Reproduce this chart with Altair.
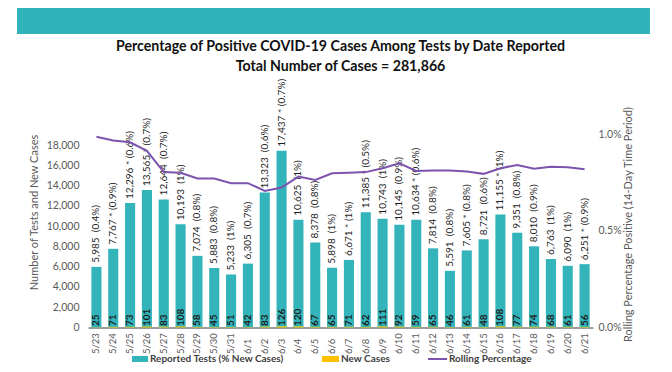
import altair as alt
import pandas as pd

dates = ["5/23", "5/24", "5/25", "5/26", "5/27", "5/28", "5/29", "5/30", "5/31",
         "6/1", "6/2", "6/3", "6/4", "6/5", "6/6", "6/7", "6/8", "6/9", "6/10",
         "6/11", "6/12", "6/13", "6/14", "6/15", "6/16", "6/17", "6/18", "6/19",
         "6/20", "6/21"]
tests = [5985, 7767, 12296, 13565, 12644, 10193, 7074, 5883, 5233, 6305, 13323,
         17437, 10625, 8378, 5898, 6671, 11385, 10743, 10145, 10634, 7814, 5591,
         7605, 8721, 11155, 9351, 8010, 6763, 6090, 6251]
pct_labels = ["0.4%", "0.9%", "0.6%", "0.7%", "0.7%", "1%", "0.8%", "0.8%", "1%",
              "0.7%", "0.6%", "0.7%", "1%", "0.8%", "1%", "1%", "0.5%", "1%",
              "0.9%", "0.6%", "0.8%", "0.8%", "0.8%", "0.6%", "1%", "0.8%",
              "0.9%", "1%", "1%", "0.9%"]
starred = [False, True, True, True, False, False, False, False, False, False,
           False, True, False, False, False, True, True, False, False, True,
           False, False, True, False, True, False, False, False, False, True]
new_cases = [25, 71, 73, 101, 83, 108, 58, 45, 51, 42, 83, 126, 120, 67, 65, 71,
             62, 111, 92, 59, 65, 46, 61, 48, 108, 77, 74, 68, 61, 56]
rolling_pct = [0.986, 0.966, 0.957, 0.913, 0.803, 0.800, 0.770, 0.770, 0.746,
               0.746, 0.706, 0.723, 0.780, 0.763, 0.797, 0.800, 0.803, 0.823,
               0.849, 0.809, 0.811, 0.811, 0.806, 0.794, 0.823, 0.840, 0.820,
               0.831, 0.828, 0.818]

title_lines = ["Percentage of Positive COVID-19 Cases Among Tests by Date Reported",
               "Total Number of Cases = 281,866"]
legend_labels = ["Reported Tests (% New Cases)", "New Cases", "Rolling Percentage"]
left_title = "Number of Tests and New Cases"
right_title = "Rolling Percentage Positive (14-Day Time Period)"
left_ticks = [0, 2000, 4000, 6000, 8000, 10000, 12000, 14000, 16000, 18000]
right_ticks = [0, 0.5, 1.0]

TEAL = "#32b4ba"
ORANGE = "#ffc000"
PURPLE = "#7c54ae"
GRAY = "#595959"
DARK = "#1e1e1e"
FONT = "Lato"

W, H = 505, 193.5

df = pd.DataFrame({"date": dates, "tests": tests, "new": new_cases,
                   "roll": rolling_pct})
df["label"] = [f"{t:,}" + (" * " if s else "\u00a0\u00a0") + f"({p})"
               for t, s, p in zip(tests, starred, pct_labels)]
df["newlab"] = [str(n) for n in new_cases]
df["zero"] = 0

xscale = alt.Scale(paddingInner=0.4, paddingOuter=0.2)
xenc = alt.X("date:N", sort=dates, scale=xscale,
             axis=alt.Axis(title=None, labelAngle=270, labelAlign="left",
                           labelBaseline="middle", labelPadding=26, ticks=False,
                           domainColor="#3a3a3a", labelColor=GRAY,
                           labelFontSize=9.5, labelFont=FONT, grid=False))
lscale = alt.Scale(domain=[0, 19100], nice=False)

base = alt.Chart(df)

bars = base.mark_bar(color=TEAL).encode(
    x=xenc,
    y=alt.Y("tests:Q", scale=lscale,
            axis=alt.Axis(title=left_title, values=left_ticks,
                          labelExpr="format(datum.value, ',')",
                          domain=False, ticks=False, grid=False,
                          labelPadding=9, labelColor=GRAY, labelFontSize=10.5,
                          labelFont=FONT, titleFont=FONT, titleFontSize=11,
                          titleFontWeight="normal", titleColor=GRAY,
                          titleAngle=270, titleX=-54, titleY=78,
                          titleAlign="center", titleBaseline="middle")),
)
newbars = base.mark_bar(color=ORANGE).encode(
    x=xenc, y=alt.Y("new:Q", scale=lscale, axis=None))
toplab = base.mark_text(angle=270, align="left", baseline="middle", yOffset=-4,
                        fontSize=10, font=FONT, color=DARK).encode(
    x=xenc, y=alt.Y("tests:Q", scale=lscale, axis=None), text="label:N")
botlab = base.mark_text(angle=270, align="left", baseline="middle", yOffset=-1.5,
                        fontSize=10, font=FONT, fontWeight="bold",
                        color=DARK).encode(
    x=xenc, y=alt.Y("zero:Q", scale=lscale, axis=None), text="newlab:N")
line = base.mark_line(color=PURPLE, strokeWidth=2).encode(
    x=xenc,
    y=alt.Y("roll:Q", scale=alt.Scale(domain=[0, 1.0], nice=False),
            axis=alt.Axis(orient="right", title=right_title,
                          values=right_ticks,
                          labelExpr="format(datum.value, '.1f') + '%'",
                          domain=False, ticks=False, grid=False, labelPadding=5,
                          labelColor=GRAY, labelFontSize=10.5, labelFont=FONT,
                          titleFont=FONT, titleFontSize=11,
                          titleFontWeight="normal", titleColor=GRAY,
                          titleAngle=270, titleX=35, titleY=90,
                          titleAlign="center", titleBaseline="middle")),
)

one = pd.DataFrame({"k": [0]})


def deco_rect(x1, x2, y1, y2, color):
    return alt.Chart(one).mark_rect(color=color).encode(
        x=alt.value(x1), x2=alt.value(x2), y=alt.value(y1), y2=alt.value(y2))


def deco_text(txt, x, y, size, weight="normal", align="left", color=DARK):
    return alt.Chart(one).mark_text(text=txt, fontSize=size, font=FONT,
                                    fontWeight=weight, align=align,
                                    baseline="middle", color=color).encode(
        x=alt.value(x), y=alt.value(y))


banner = deco_rect(-71, 562, -126, -100, "#30b3ba")
t1 = deco_text(title_lines[0], W / 2, -87, 14.2, "bold", "center", "#111111")
t2 = deco_text(title_lines[1], W / 2, -67, 14.2, "bold", "center", "#111111")

LY = 225
leg = [
    deco_rect(44, 60, LY - 3, LY + 3, TEAL),
    deco_text(legend_labels[0], 62, LY, 10, "bold", "left", "#404040"),
    deco_rect(234, 251, LY - 3, LY + 3, ORANGE),
    deco_text(legend_labels[1], 253, LY, 10, "bold", "left", "#404040"),
    deco_rect(340, 359, LY - 1, LY + 1, PURPLE),
    deco_text(legend_labels[2], 361, LY, 10, "bold", "left", "#404040"),
]

chart = alt.layer(bars, newbars, toplab, botlab, line, banner, t1, t2, *leg).resolve_scale(
    y="independent"
).properties(
    width=W, height=H,
    autosize=alt.AutoSizeParams(type="none"),
    padding={"left": 80, "top": 126, "right": 71, "bottom": 36.5},
    background="white",
).configure_view(stroke=None)

chart.save("out.html", embed_options={"renderer": "svg", "actions": False})
